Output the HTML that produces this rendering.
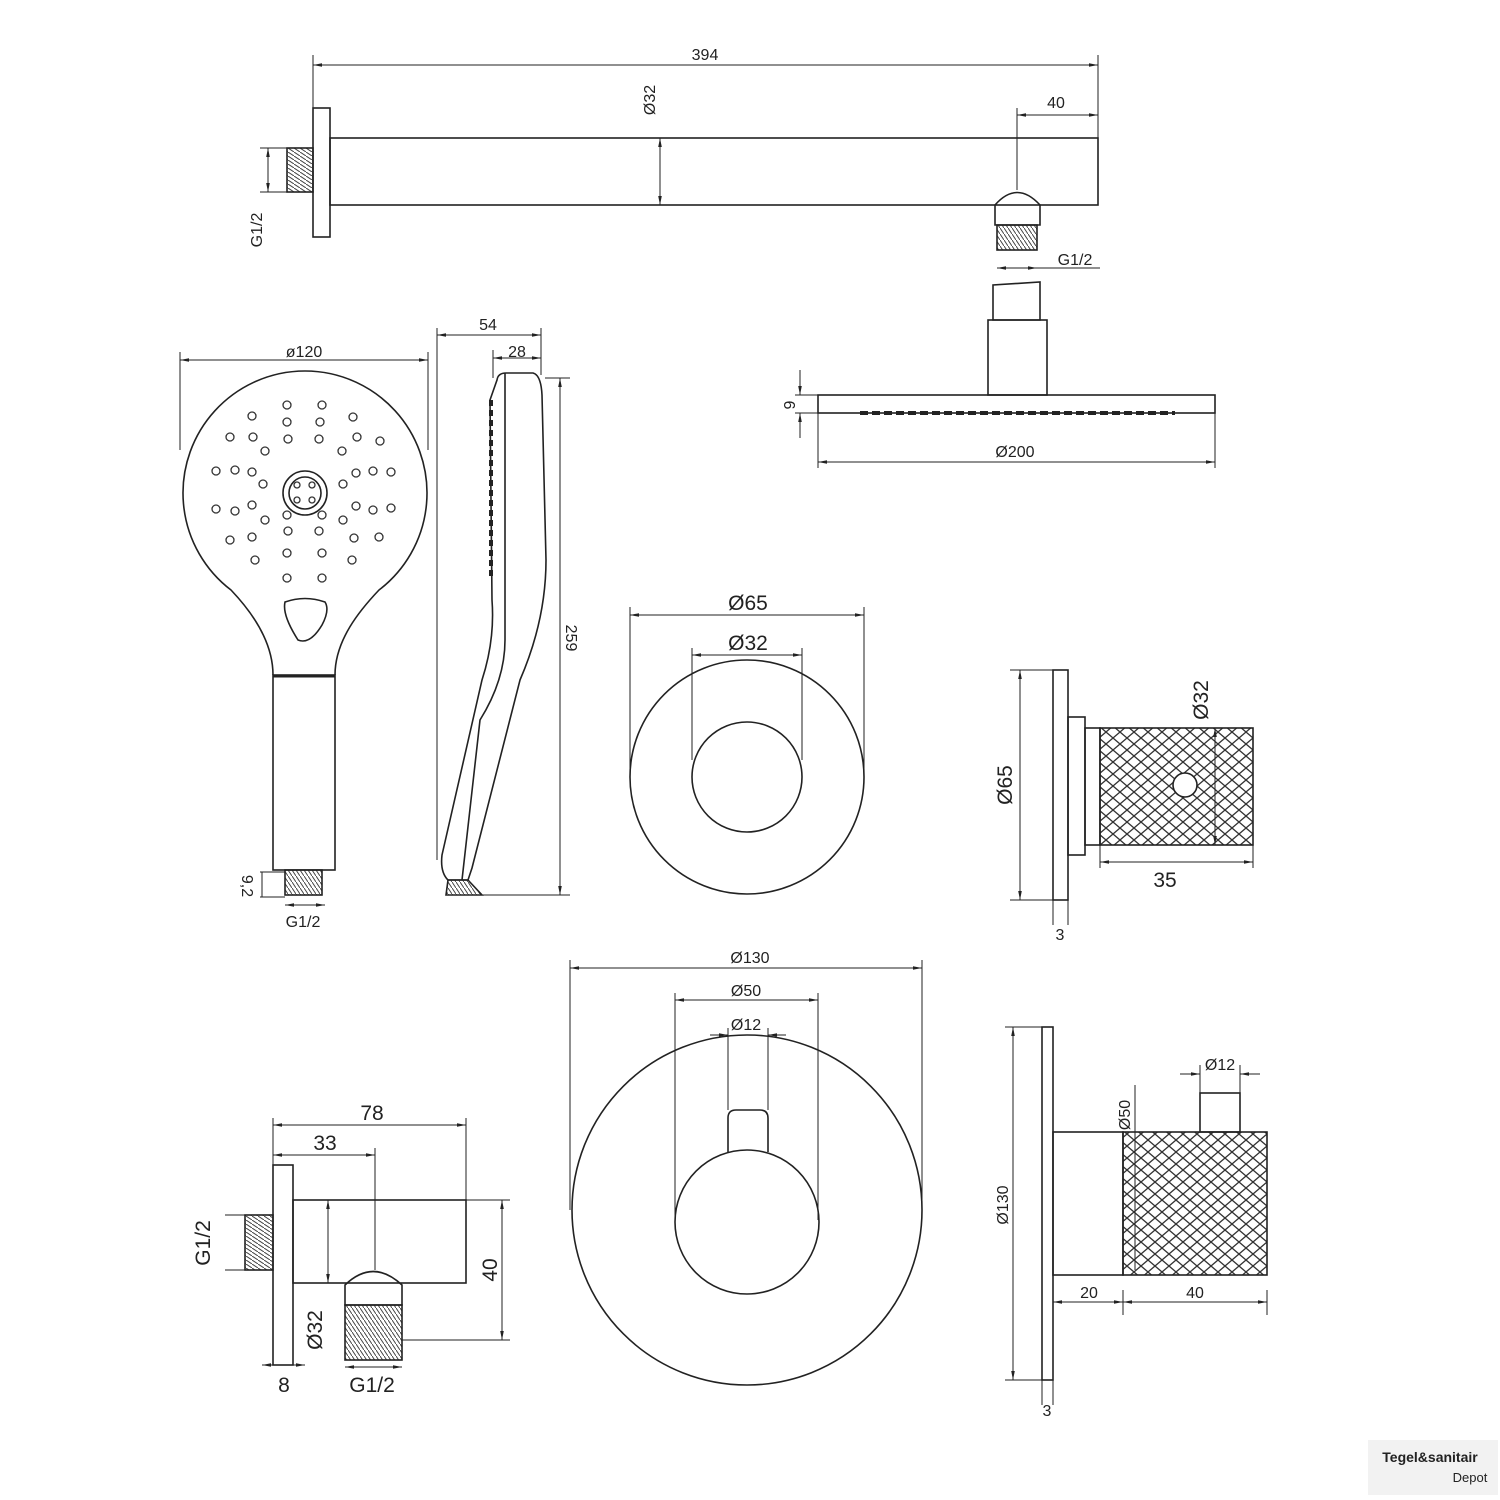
<!DOCTYPE html>
<html><head><meta charset="utf-8"><style>
html,body{margin:0;padding:0;background:#fff}
svg{display:block}
text{font-family:"Liberation Sans",sans-serif;fill:#222}
</style></head><body>
<svg width="1500" height="1500" viewBox="0 0 1500 1500" xmlns="http://www.w3.org/2000/svg">
<defs>
<pattern id="kn" width="14" height="12" patternUnits="userSpaceOnUse">
<path d="M0 0 L14 12 M14 0 L0 12" stroke="#333" stroke-width="1.3"/>
</pattern>
<pattern id="th" width="4" height="6" patternUnits="userSpaceOnUse">
<path d="M0 0 L4 6" stroke="#444" stroke-width="1"/>
</pattern>
<pattern id="thh" width="6" height="4" patternUnits="userSpaceOnUse">
<path d="M0 0 L6 4" stroke="#444" stroke-width="1"/>
</pattern>
<marker id="a" viewBox="0 0 10 10" refX="10" refY="5" markerWidth="9" markerHeight="9" orient="auto-start-reverse"><path d="M0 3 L10 5 L0 7z" fill="#222"/></marker>
</defs>
<g fill="none" stroke="#222" stroke-width="1.6">
<!-- top arm -->
<rect x="313" y="108" width="17" height="129"/>
<rect x="287" y="148" width="26" height="44" fill="url(#thh)"/>
<rect x="330" y="138" width="768" height="67"/>
<path d="M995 225 L995 205 Q1017 180 1040 205 L1040 225 Z"/>
<rect x="997" y="225" width="40" height="25" fill="url(#th)"/>
<path d="M993 320 L993 285 L1040 282 L1040 320 Z"/>
<rect x="988" y="320" width="59" height="75"/>
<rect x="818" y="395" width="397" height="18"/>
<path d="M860 413 L1175 413" stroke-dasharray="8 4" stroke-width="4"/>
<!-- top dims -->
<g stroke-width="1">
<line x1="313" y1="65" x2="1098" y2="65" marker-start="url(#a)" marker-end="url(#a)"/>
<line x1="313" y1="55" x2="313" y2="108"/><line x1="1098" y1="55" x2="1098" y2="138"/>
<line x1="660" y1="138" x2="660" y2="205" marker-start="url(#a)" marker-end="url(#a)"/>
<line x1="1017" y1="115" x2="1098" y2="115" marker-start="url(#a)" marker-end="url(#a)"/>
<line x1="1017" y1="108" x2="1017" y2="190"/>
<line x1="268" y1="148" x2="268" y2="192" marker-start="url(#a)" marker-end="url(#a)"/>
<line x1="260" y1="148" x2="287" y2="148"/><line x1="260" y1="192" x2="287" y2="192"/>
<line x1="997" y1="268" x2="1037" y2="268" marker-start="url(#a)" marker-end="url(#a)"/>
<line x1="1037" y1="268" x2="1100" y2="268"/>
<line x1="800" y1="370" x2="800" y2="395" marker-end="url(#a)"/><line x1="800" y1="438" x2="800" y2="413" marker-end="url(#a)"/>
<line x1="795" y1="395" x2="818" y2="395"/><line x1="795" y1="413" x2="818" y2="413"/>
<line x1="818" y1="462" x2="1215" y2="462" marker-start="url(#a)" marker-end="url(#a)"/>
<line x1="818" y1="413" x2="818" y2="468"/><line x1="1215" y1="413" x2="1215" y2="468"/>
</g>
<!-- hand shower front -->
<path d="M273 675 C273 640 250 610 231 590 A122 122 0 1 1 379 590 C360 610 335 640 335 675"/>
<rect x="273" y="675" width="62" height="195"/>
<line x1="273" y1="676" x2="335" y2="676" stroke-width="3"/>
<path d="M285 602 Q305 595 325 602 Q330 610 322 625 Q310 645 298 640 Q282 615 285 602Z"/>
<circle cx="305" cy="493" r="22"/><circle cx="305" cy="493" r="16"/>
<rect x="285" y="870" width="37" height="25" fill="url(#th)"/>
<g stroke-width="1">
<line x1="180" y1="360" x2="428" y2="360" marker-start="url(#a)" marker-end="url(#a)"/>
<line x1="180" y1="352" x2="180" y2="450"/><line x1="428" y1="352" x2="428" y2="450"/>
<line x1="260" y1="872" x2="285" y2="872"/><line x1="260" y1="897" x2="285" y2="897"/>
<line x1="262" y1="872" x2="262" y2="897"/>
<line x1="285" y1="905" x2="325" y2="905" marker-start="url(#a)" marker-end="url(#a)"/>
</g>
<!-- hand shower side -->
<path d="M497 380 Q498 373 506 373 L533 373 Q541 375 542 395 L546 560 Q546 620 520 680 L472 868 L468 880 L448 880 Q440 872 442 855 L482 680 Q495 640 492 600 L490 400 Z"/>
<path d="M505 373 L505 640 Q505 680 480 720 L462 880"/>
<path d="M448 880 L468 880 L482 895 L446 895 Z" fill="url(#th)"/>
<path d="M491 400 L491 580" stroke-dasharray="6 4" stroke-width="4"/>
<g stroke-width="1">
<line x1="437" y1="335" x2="541" y2="335" marker-start="url(#a)" marker-end="url(#a)"/>
<line x1="437" y1="328" x2="437" y2="860"/><line x1="541" y1="328" x2="541" y2="375"/>
<line x1="493" y1="358" x2="541" y2="358" marker-start="url(#a)" marker-end="url(#a)"/>
<line x1="493" y1="350" x2="493" y2="378"/>
<line x1="560" y1="378" x2="560" y2="895" marker-start="url(#a)" marker-end="url(#a)"/>
<line x1="545" y1="378" x2="570" y2="378"/><line x1="480" y1="895" x2="570" y2="895"/>
</g>
<!-- knob 65 front -->
<circle cx="747" cy="777" r="117"/><circle cx="747" cy="777" r="55"/>
<g stroke-width="1">
<line x1="630" y1="615" x2="864" y2="615" marker-start="url(#a)" marker-end="url(#a)"/>
<line x1="630" y1="607" x2="630" y2="777"/><line x1="864" y1="607" x2="864" y2="777"/>
<line x1="692" y1="655" x2="802" y2="655" marker-start="url(#a)" marker-end="url(#a)"/>
<line x1="692" y1="648" x2="692" y2="760"/><line x1="802" y1="648" x2="802" y2="760"/>
</g>
<!-- knob 65 side -->
<rect x="1053" y="670" width="15" height="230"/>
<rect x="1068" y="717" width="17" height="138"/>
<rect x="1085" y="728" width="15" height="117"/>
<rect x="1100" y="728" width="153" height="117" fill="url(#kn)"/>
<circle cx="1185" cy="785" r="12" fill="#fff"/>
<g stroke-width="1">
<line x1="1020" y1="670" x2="1020" y2="900" marker-start="url(#a)" marker-end="url(#a)"/>
<line x1="1010" y1="670" x2="1053" y2="670"/><line x1="1010" y1="900" x2="1053" y2="900"/>
<line x1="1215" y1="728" x2="1215" y2="845" marker-start="url(#a)" marker-end="url(#a)"/>
<line x1="1100" y1="862" x2="1253" y2="862" marker-start="url(#a)" marker-end="url(#a)"/>
<line x1="1100" y1="845" x2="1100" y2="868"/><line x1="1253" y1="845" x2="1253" y2="868"/>
<line x1="1053" y1="900" x2="1053" y2="925"/><line x1="1068" y1="900" x2="1068" y2="925"/>
</g>
<!-- knob 130 front -->
<circle cx="747" cy="1210" r="175"/><circle cx="747" cy="1222" r="72"/>
<path d="M728 1152 L728 1118 Q728 1110 736 1110 L760 1110 Q768 1110 768 1118 L768 1152"/>
<g stroke-width="1">
<line x1="570" y1="968" x2="922" y2="968" marker-start="url(#a)" marker-end="url(#a)"/>
<line x1="570" y1="960" x2="570" y2="1210"/><line x1="922" y1="960" x2="922" y2="1210"/>
<line x1="675" y1="1000" x2="818" y2="1000" marker-start="url(#a)" marker-end="url(#a)"/>
<line x1="675" y1="993" x2="675" y2="1220"/><line x1="818" y1="993" x2="818" y2="1220"/>
<line x1="710" y1="1035" x2="728" y2="1035" marker-end="url(#a)"/><line x1="786" y1="1035" x2="768" y2="1035" marker-end="url(#a)"/>
<line x1="728" y1="1028" x2="728" y2="1110"/><line x1="768" y1="1028" x2="768" y2="1110"/>
</g>
<!-- knob 130 side -->
<rect x="1042" y="1027" width="11" height="353"/>
<rect x="1053" y="1132" width="70" height="143"/>
<rect x="1123" y="1132" width="144" height="143" fill="url(#kn)"/>
<rect x="1200" y="1093" width="40" height="39"/>
<g stroke-width="1">
<line x1="1013" y1="1027" x2="1013" y2="1380" marker-start="url(#a)" marker-end="url(#a)"/>
<line x1="1005" y1="1027" x2="1042" y2="1027"/><line x1="1005" y1="1380" x2="1042" y2="1380"/>
<line x1="1135" y1="1085" x2="1135" y2="1270"/>
<line x1="1053" y1="1302" x2="1123" y2="1302" marker-start="url(#a)" marker-end="url(#a)"/>
<line x1="1123" y1="1302" x2="1267" y2="1302" marker-start="url(#a)" marker-end="url(#a)"/>
<line x1="1123" y1="1290" x2="1123" y2="1315"/><line x1="1267" y1="1290" x2="1267" y2="1315"/>
<line x1="1180" y1="1074" x2="1200" y2="1074" marker-end="url(#a)"/><line x1="1260" y1="1074" x2="1240" y2="1074" marker-end="url(#a)"/>
<line x1="1200" y1="1065" x2="1200" y2="1093"/><line x1="1240" y1="1065" x2="1240" y2="1093"/>
<line x1="1042" y1="1380" x2="1042" y2="1405"/><line x1="1053" y1="1380" x2="1053" y2="1405"/>
</g>
<!-- wall outlet -->
<rect x="273" y="1165" width="20" height="200"/>
<rect x="245" y="1215" width="28" height="55" fill="url(#thh)"/>
<rect x="293" y="1200" width="173" height="83"/>
<path d="M345 1305 L345 1285 Q373 1258 402 1285 L402 1305 Z"/>
<rect x="345" y="1305" width="57" height="55" fill="url(#th)"/>
<g stroke-width="1">
<line x1="273" y1="1125" x2="466" y2="1125" marker-start="url(#a)" marker-end="url(#a)"/>
<line x1="273" y1="1118" x2="273" y2="1165"/><line x1="466" y1="1118" x2="466" y2="1200"/>
<line x1="273" y1="1155" x2="375" y2="1155" marker-start="url(#a)" marker-end="url(#a)"/>
<line x1="375" y1="1148" x2="375" y2="1270"/>
<line x1="502" y1="1200" x2="502" y2="1340" marker-start="url(#a)" marker-end="url(#a)"/>
<line x1="466" y1="1200" x2="510" y2="1200"/><line x1="402" y1="1340" x2="510" y2="1340"/>
<line x1="328" y1="1200" x2="328" y2="1283" marker-start="url(#a)" marker-end="url(#a)"/>
<line x1="225" y1="1215" x2="245" y2="1215"/><line x1="225" y1="1270" x2="245" y2="1270"/>
<line x1="262" y1="1365" x2="305" y2="1365" marker-start="url(#a)" marker-end="url(#a)"/>
<line x1="345" y1="1367" x2="402" y2="1367" marker-start="url(#a)" marker-end="url(#a)"/>
</g>
</g>
<!-- nozzles -->
<g fill="none" stroke="#333" stroke-width="1.3">
<circle cx="252" cy="416" r="4"/><circle cx="287" cy="405" r="4"/><circle cx="322" cy="405" r="4"/><circle cx="353" cy="417" r="4"/>
<circle cx="230" cy="437" r="4"/><circle cx="253" cy="437" r="4"/><circle cx="287" cy="422" r="4"/><circle cx="320" cy="422" r="4"/><circle cx="357" cy="437" r="4"/><circle cx="380" cy="441" r="4"/>
<circle cx="265" cy="451" r="4"/><circle cx="288" cy="439" r="4"/><circle cx="319" cy="439" r="4"/><circle cx="342" cy="451" r="4"/>
<circle cx="216" cy="471" r="4"/><circle cx="235" cy="470" r="4"/><circle cx="252" cy="472" r="4"/><circle cx="263" cy="484" r="4"/><circle cx="343" cy="484" r="4"/><circle cx="356" cy="473" r="4"/><circle cx="373" cy="471" r="4"/><circle cx="391" cy="472" r="4"/>
<circle cx="216" cy="509" r="4"/><circle cx="235" cy="511" r="4"/><circle cx="252" cy="505" r="4"/><circle cx="356" cy="506" r="4"/><circle cx="373" cy="510" r="4"/><circle cx="391" cy="508" r="4"/>
<circle cx="265" cy="520" r="4"/><circle cx="287" cy="515" r="4"/><circle cx="322" cy="515" r="4"/><circle cx="343" cy="520" r="4"/>
<circle cx="230" cy="540" r="4"/><circle cx="252" cy="537" r="4"/><circle cx="288" cy="531" r="4"/><circle cx="319" cy="531" r="4"/><circle cx="354" cy="538" r="4"/><circle cx="379" cy="537" r="4"/>
<circle cx="255" cy="560" r="4"/><circle cx="287" cy="553" r="4"/><circle cx="322" cy="553" r="4"/><circle cx="352" cy="560" r="4"/>
<circle cx="287" cy="578" r="4"/><circle cx="322" cy="578" r="4"/>
<circle cx="297" cy="485" r="3"/><circle cx="312" cy="485" r="3"/><circle cx="297" cy="500" r="3"/><circle cx="312" cy="500" r="3"/>
</g>
<!-- text -->
<g font-size="16">
<text x="705" y="60" text-anchor="middle">394</text>
<text x="1056" y="108" text-anchor="middle">40</text>
<text x="1075" y="265" text-anchor="middle">G1/2</text>
<text x="1015" y="457" text-anchor="middle">Ø200</text>
<text x="304" y="357" text-anchor="middle">ø120</text>
<text x="488" y="330" text-anchor="middle">54</text>
<text x="517" y="357" text-anchor="middle">28</text>
<text x="303" y="927" text-anchor="middle">G1/2</text>
<text transform="translate(655,100) rotate(-90)" text-anchor="middle">Ø32</text>
<text transform="translate(262,230) rotate(-90)" text-anchor="middle">G1/2</text>
<text transform="translate(795,405) rotate(-90)" text-anchor="middle">9</text>
<text transform="translate(566,638) rotate(90)" text-anchor="middle">259</text>
<text transform="translate(242,886) rotate(90)" text-anchor="middle">9,2</text>
<text x="750" y="963" text-anchor="middle">Ø130</text>
<text x="746" y="996" text-anchor="middle">Ø50</text>
<text x="746" y="1030" text-anchor="middle">Ø12</text>
<text x="1220" y="1070" text-anchor="middle">Ø12</text>
<text transform="translate(1130,1115) rotate(-90)" text-anchor="middle">Ø50</text>
<text transform="translate(1008,1205) rotate(-90)" text-anchor="middle">Ø130</text>
<text x="1089" y="1298" text-anchor="middle">20</text>
<text x="1195" y="1298" text-anchor="middle">40</text>
<text x="1047" y="1416" text-anchor="middle">3</text>
<text x="1060" y="940" text-anchor="middle">3</text>
</g>
<g font-size="21">
<text x="748" y="610" text-anchor="middle">Ø65</text>
<text x="748" y="650" text-anchor="middle">Ø32</text>
<text transform="translate(1012,785) rotate(-90)" text-anchor="middle">Ø65</text>
<text transform="translate(1208,700) rotate(-90)" text-anchor="middle">Ø32</text>
<text x="1165" y="887" text-anchor="middle">35</text>
<text x="372" y="1120" text-anchor="middle">78</text>
<text x="325" y="1150" text-anchor="middle">33</text>
<text transform="translate(497,1270) rotate(-90)" text-anchor="middle">40</text>
<text transform="translate(322,1330) rotate(-90)" text-anchor="middle">Ø32</text>
<text transform="translate(210,1243) rotate(-90)" text-anchor="middle">G1/2</text>
<text x="284" y="1392" text-anchor="middle">8</text>
<text x="372" y="1392" text-anchor="middle">G1/2</text>
</g>
<rect x="1368" y="1440" width="130" height="55" fill="#f2f2f2"/>
<text x="1430" y="1462" font-size="14" font-weight="bold" text-anchor="middle" fill="#bbb">Tegel&amp;sanitair</text>
<text x="1470" y="1482" font-size="13" text-anchor="middle" fill="#bbb">Depot</text>
</svg>
</body></html>
